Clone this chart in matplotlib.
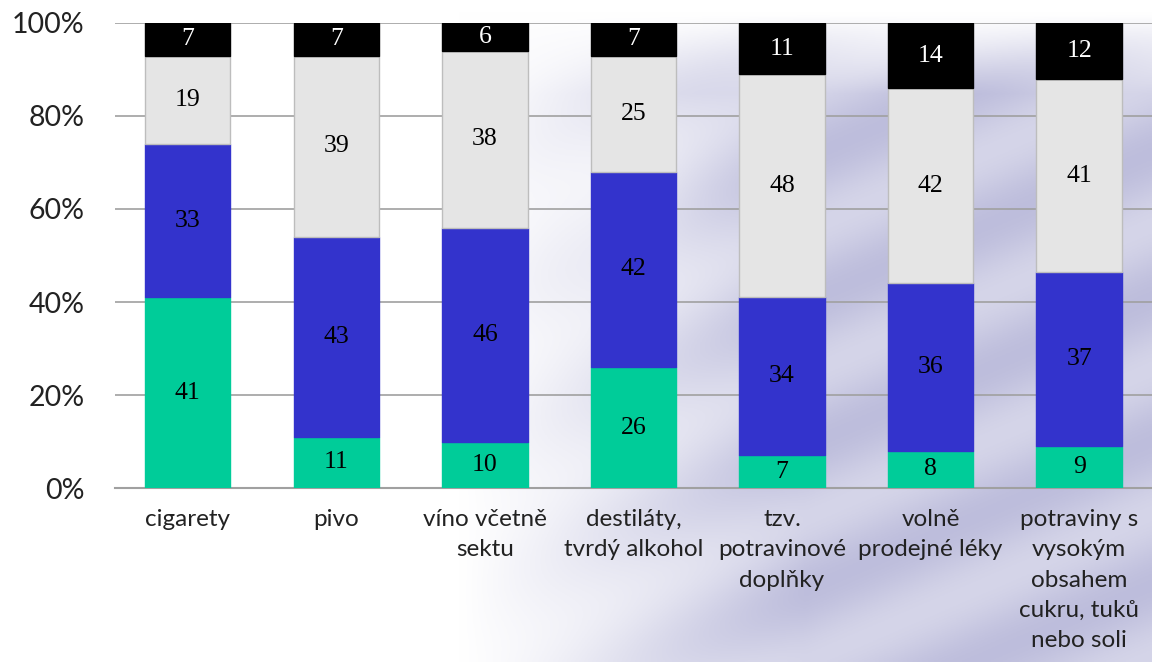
import numpy as np
import matplotlib
matplotlib.use("Agg")
from matplotlib import pyplot as plt

categories = ["cigarety", "pivo", "víno včetně\nsektu", "destiláty,\ntvrdý alkohol",
              "tzv.\npotravinové\ndoplňky", "volně\nprodejné léky",
              "potraviny s\nvysokým\nobsahem\ncukru, tuků\nnebo soli"]
green = [41, 11, 10, 26, 7, 8, 9]
blue = [33, 43, 46, 42, 34, 36, 37]
grey = [19, 39, 38, 25, 48, 42, 41]
black = [7, 7, 6, 7, 11, 14, 12]
yticks = [0, 20, 40, 60, 80, 100]

series = [green, blue, grey, black]
colors = ["#00CC99", "#3333CC", "#E5E5E5", "#000000"]
edges = ["#00CC99", "#3333CC", "#BDBDBD", "#000000"]
textcol = ["black", "black", "black", "white"]

fig = plt.figure(figsize=(11.52, 6.62), dpi=100)

# background swirl
bg = fig.add_axes([0, 0, 1, 1], zorder=-10)
gx, gy = np.meshgrid(np.linspace(0, 1, 400), np.linspace(0, 1, 300))
w = np.clip((gx - 0.40) / 0.3, 0, 1)
w = w * np.clip((gy - 0.02) / 0.12, 0, 1)
w = w * (0.55 + 0.3 * np.sin((gx * 1.2 + gy * 1.6) * 9.0) ** 2)
w = w * (1 - 0.35 * np.exp(-((gx - 0.53) ** 2 / 0.004 + (gy - 0.3) ** 2 / 0.02)))
lav = np.array([178, 178, 214]) / 255.0
img = 1 - w[..., None] * (1 - lav)
bg.imshow(img, extent=[0, 1, 0, 1], aspect="auto", origin="upper")
bg.axis("off")

ax = fig.add_axes([0.0998, 0.2628, 0.9002, 0.7025])
ax.patch.set_alpha(0)

x = np.arange(len(categories))
totals = np.sum(series, axis=0)
bottom = np.zeros(len(categories))
for vals, c, ec, tc in zip(series, colors, edges, textcol):
    pct = np.array(vals) / totals * 100
    ax.bar(x, pct, 0.575, bottom=bottom, color=c, edgecolor=ec, linewidth=1, zorder=3)
    for xi, b, p, v in zip(x, bottom, pct, vals):
        ax.text(xi, b + p / 2, str(v), ha="center", va="center", color=tc,
                fontsize=18.5, family="Liberation Serif", zorder=4)
    bottom = bottom + pct

ax.set_xlim(-0.49, 6.49)
ax.set_ylim(0, 100)
ax.set_yticks(yticks)
ax.set_yticklabels([f"{t}%" for t in yticks], fontsize=20.5, family="Lato", color="#222222")
ax.set_xticks(x)
ax.set_xticklabels(categories, fontsize=17.5, family="Lato", color="#222222",
                   va="top", linespacing=1.55)
ax.tick_params(axis="both", length=0)
ax.tick_params(axis="y", pad=22)
ax.tick_params(axis="x", pad=15)
ax.grid(axis="y", color="#A0A0A0", linewidth=1.2, zorder=0)
for s in ["top", "right", "left"]:
    ax.spines[s].set_visible(False)
ax.spines["bottom"].set_color("#A0A0A0")
ax.spines["bottom"].set_linewidth(1.5)

fig.savefig("out.png", dpi=100)
